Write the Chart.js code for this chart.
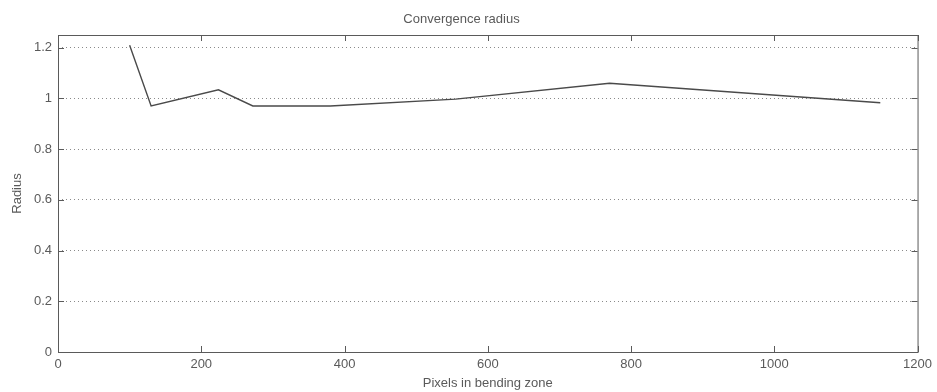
<!DOCTYPE html>
<html>
<head>
<meta charset="utf-8">
<script src="https://cdn.jsdelivr.net/npm/chart.js@4/dist/chart.umd.min.js"></script>
<style>
  body { margin: 0; background: #fff; }
</style>
</head>
<body>
<canvas id="chart" width="937" height="392"></canvas>
<script>
const pixels = [100, 130, 224, 272, 380, 555, 770, 1148];
const radius = [1.21, 0.97, 1.034, 0.97, 0.97, 0.997, 1.06, 0.983];
const xTicks = [0, 200, 400, 600, 800, 1000, 1200];
const yTicks = [0, 0.2, 0.4, 0.6, 0.8, 1, 1.2];

const ink = '#5a5a5a';
const font = { family: 'Liberation Sans', size: 13, weight: 'normal' };

// MATLAB-like frame with inward ticks on all four sides
const framePlugin = {
    id: 'frame',
    afterDraw(chart) {
        const { ctx, chartArea: a, scales } = chart;
        ctx.save();
        ctx.strokeStyle = ink;
        ctx.lineWidth = 1;
        ctx.strokeRect(a.left + 0.5, a.top + 0.5, a.right - a.left, a.bottom - a.top);
        ctx.beginPath();
        xTicks.forEach(v => {
            const x = Math.round(scales.x.getPixelForValue(v)) + 0.5;
            ctx.moveTo(x, a.bottom); ctx.lineTo(x, a.bottom - 6);
            ctx.moveTo(x, a.top); ctx.lineTo(x, a.top + 6);
        });
        yTicks.forEach(v => {
            const y = Math.round(scales.y.getPixelForValue(v)) + 0.5;
            ctx.moveTo(a.left, y); ctx.lineTo(a.left + 6, y);
            ctx.moveTo(a.right, y); ctx.lineTo(a.right - 6, y);
        });
        ctx.stroke();
        ctx.restore();
    }
};

new Chart(document.getElementById('chart'), {
    type: 'scatter',
    data: {
        datasets: [{
            data: pixels.map((p, i) => ({ x: p, y: radius[i] })),
            showLine: true,
            borderColor: '#4a4a4a',
            borderWidth: 1.4,
            pointRadius: 0,
            tension: 0
        }]
    },
    options: {
        responsive: false,
        animation: false,
        layout: { padding: { left: 0, right: 14, top: 0, bottom: 0 } },
        plugins: {
            legend: { display: false },
            tooltip: { enabled: false },
            title: {
                display: true,
                text: 'Convergence radius',
                color: ink,
                font: font,
                padding: { top: 11.2, bottom: 8.2 }
            }
        },
        scales: {
            x: {
                type: 'linear',
                min: 0,
                max: 1200,
                afterBuildTicks: s => { s.ticks = xTicks.map(v => ({ value: v })); },
                afterFit: s => { s.height = 40; },
                grid: { display: false, drawTicks: false },
                border: { display: false },
                ticks: {
                    color: ink,
                    padding: 5,
                    maxRotation: 0,
                    font: font,
                    callback: v => String(v)
                },
                title: {
                    display: true,
                    text: 'Pixels in bending zone',
                    color: ink,
                    font: font,
                    padding: { top: 0, bottom: 1.2 }
                }
            },
            y: {
                min: 0,
                max: 1.25,
                afterBuildTicks: s => { s.ticks = yTicks.map(v => ({ value: v })); },
                afterFit: s => { s.width = 58; },
                grid: {
                    drawTicks: false,
                    color: ctx => ctx.tick && ctx.tick.value === 0 ? 'rgba(0,0,0,0)' : '#8a8a8a',
                    lineWidth: 1
                },
                border: { display: false, dash: [1, 3] },
                ticks: {
                    color: ink,
                    padding: 6,
                    font: font,
                    callback: v => String(Math.round(v * 10) / 10)
                },
                title: {
                    display: true,
                    text: 'Radius',
                    color: ink,
                    font: font,
                    padding: { top: 9.2, bottom: 0 }
                }
            }
        }
    },
    plugins: [framePlugin]
});
</script>
</body>
</html>
